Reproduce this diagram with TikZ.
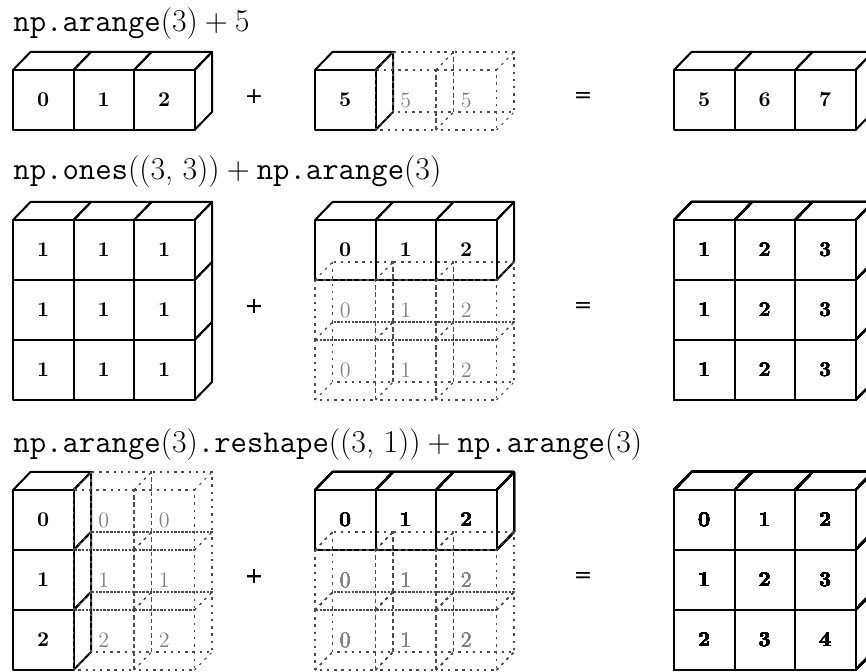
\documentclass[tikz,border=0pt]{standalone}
\usepackage{fontspec}
\newfontfamily\opfont{DejaVu Sans}

% cube geometry (one unit = 0.5pt)
\def\cw{60.5}
\def\ch{60}
\def\ddx{17.5}
\def\ddy{18}

% spacing around a binary plus and after a comma
\newcommand\bplus{\hspace{0.222em}+\hspace{0.222em}}
\newcommand\csep{,\hspace{0.3em}}

% solid array: x0, y0, columns, rows, entries c/r/label, name prefix
\newcommand\solidarr[6]{%
  \foreach \c/\r/\t in {#5} {
    \draw[edge] ({#1+\c*\cw},{#2+\r*\ch}) rectangle ++(\cw,\ch);
    \node[lab] (#6-\c-\r) at ({#1+(\c+0.5)*\cw},{#2+(\r+0.5)*\ch}) {\t};
  }
  \pgfmathtruncatemacro\lastc{#3-1}
  \pgfmathtruncatemacro\lastr{#4-1}
  \foreach \c in {0,...,\lastc}
    \draw[edge] ({#1+\c*\cw},#2) -- ++(\ddx,-\ddy) -- ++(\cw,0) -- ++(-\ddx,\ddy);
  \foreach \r in {0,...,\lastr}
    \draw[edge] ({#1+#3*\cw},{#2+\r*\ch}) -- ++(\ddx,-\ddy) -- ++(0,\ch) -- ++(-\ddx,\ddy);
}

% broadcast (virtual) cube: x, y, label, name; all twelve edges dotted
\newcommand\ghostcell[4]{%
  \draw[ghost] (#1,#2) rectangle ++(\cw,\ch);
  \draw[ghost] ({#1+\ddx},{#2-\ddy}) rectangle ++(\cw,\ch);
  \draw[ghost] (#1,#2) -- ++(\ddx,-\ddy);
  \draw[ghost] ({#1+\cw},#2) -- ++(\ddx,-\ddy);
  \draw[ghost] (#1,{#2+\ch}) -- ++(\ddx,-\ddy);
  \draw[ghost] ({#1+\cw},{#2+\ch}) -- ++(\ddx,-\ddy);
  \node[glab] (#4) at ({#1+0.5*\cw},{#2+0.5*\ch}) {#3};
}

\begin{document}
\begin{tikzpicture}[x=0.5pt,y=-0.5pt,
  edge/.style={line width=1pt,line join=round},
  ghost/.style={line width=0.55pt,black!70,dash pattern=on 1.2pt off 2.4pt},
  lab/.style={inner sep=0,font=\fontsize{10.5}{12}\selectfont\bfseries},
  glab/.style={inner sep=0,text=black!50,font=\fontsize{11}{13}\selectfont},
  op/.style={inner sep=0,font=\opfont\fontsize{11}{13}\selectfont},
  ttl/.style={anchor=base west,inner sep=0,font=\fontsize{15.9}{18}\selectfont}]
\useasboundingbox (0,0) rectangle (866,672);
\clip (0,0) rectangle (866,672);

% ---- np.arange(3) + 5
\node[ttl] (t1) at (13,32) {{\ttfamily np.arange}(3)\bplus 5};
\solidarr{13}{70}{3}{1}{0/0/0,1/0/1,2/0/2}{a1}
\solidarr{315}{70}{1}{1}{0/0/5}{b1}
\ghostcell{375.5}{70}{5}{g1-1}
\ghostcell{436}{70}{5}{g1-2}
\solidarr{674}{70}{3}{1}{0/0/5,1/0/6,2/0/7}{c1}
\node[op] (p1) at (254,97) {+};
\node[op] (e1) at (583,98) {=};

% ---- np.ones((3, 3)) + np.arange(3)
\node[ttl] (t2) at (13,180) {{\ttfamily np.ones}((3\csep 3))\bplus{\ttfamily np.arange}(3)};
\solidarr{13}{220}{3}{3}{0/0/1,1/0/1,2/0/1,0/1/1,1/1/1,2/1/1,0/2/1,1/2/1,2/2/1}{a2}
\solidarr{315}{220}{3}{1}{0/0/0,1/0/1,2/0/2}{b2}
\foreach \r in {1,2}
  \foreach \c in {0,1,2}
    \ghostcell{315+\c*\cw}{220+\r*\ch}{\c}{g2-\c-\r}
\solidarr{674}{220}{3}{3}{0/0/1,1/0/2,2/0/3,0/1/1,1/1/2,2/1/3,0/2/1,1/2/2,2/2/3}{c2}
\node[op] (p2) at (254,307) {+};
\node[op] (e2) at (583,308) {=};

% ---- np.arange(3).reshape((3, 1)) + np.arange(3)
\node[ttl] (t3) at (13,453) {{\ttfamily np.arange}(3){\ttfamily .reshape}((3\csep 1))\bplus{\ttfamily np.arange}(3)};
\solidarr{13}{490}{1}{3}{0/0/0,0/1/1,0/2/2}{a3}
\foreach \c in {1,2}
  \foreach \r in {0,1,2}
    \ghostcell{13+\c*\cw}{490+\r*\ch}{\r}{ga3-\c-\r}
\solidarr{315}{490}{3}{1}{0/0/0,1/0/1,2/0/2}{b3}
\foreach \r in {1,2}
  \foreach \c in {0,1,2}
    \ghostcell{315+\c*\cw}{490+\r*\ch}{\c}{gb3-\c-\r}
\solidarr{674}{490}{3}{3}{0/0/0,1/0/1,2/0/2,0/1/1,1/1/2,2/1/3,0/2/2,1/2/3,2/2/4}{c3}
\node[op] (p3) at (254,577) {+};
\node[op] (e3) at (583,578) {=};
\end{tikzpicture}
\end{document}
